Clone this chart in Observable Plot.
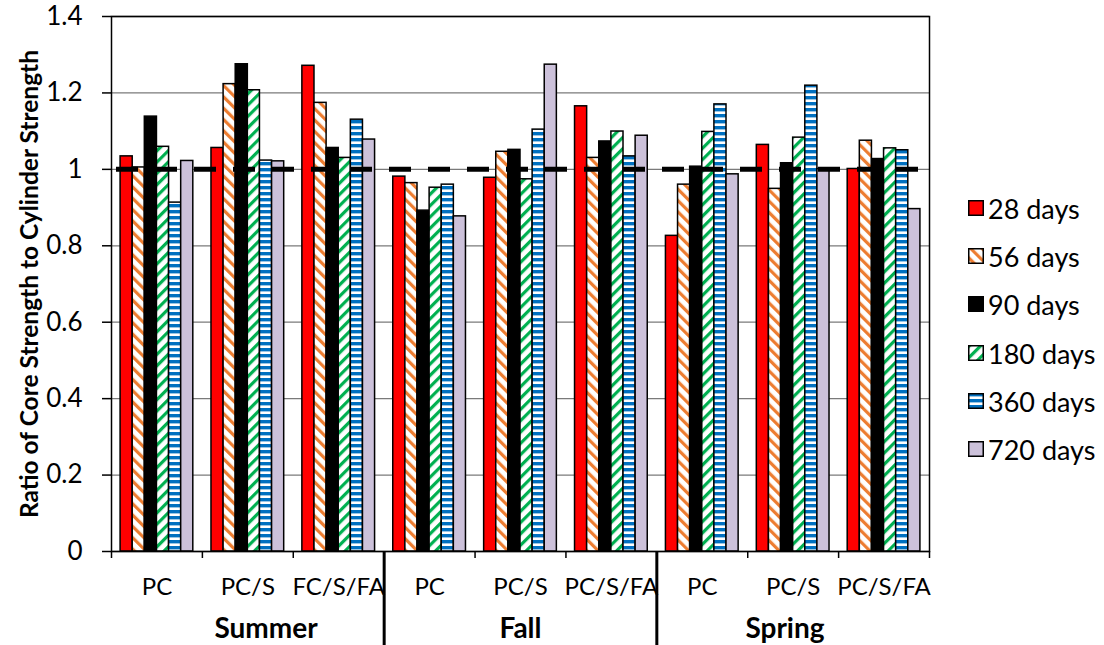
<!DOCTYPE html>
<html>
<head>
<meta charset="utf-8">
<script src="https://cdn.jsdelivr.net/npm/d3@7"></script>
<script src="https://cdn.jsdelivr.net/npm/@observablehq/plot@0.6"></script>
<style>
  html, body { margin: 0; padding: 0; background: #fff; }
  #wrap { position: relative; width: 1104px; height: 645px; font-family: Lato, "Open Sans", sans-serif; }
  #chart { position: absolute; left: 0; top: 0; }
  #legend { position: absolute; left: 968px; top: 0; }
  .li { position: absolute; left: 0; display: flex; align-items: center; white-space: nowrap; font-size: 27px; color: #000; }
  .li svg { margin-right: 4px; }
</style>
</head>
<body>
<svg width="0" height="0" style="position:absolute">
  <defs>
    <pattern id="p56" width="8" height="8" patternUnits="userSpaceOnUse" patternTransform="rotate(-45)">
      <rect width="8" height="8" fill="#fff"/>
      <rect width="3.2" height="8" fill="#ED7D31"/>
    </pattern>
    <pattern id="p180" width="8" height="8" patternUnits="userSpaceOnUse" patternTransform="rotate(45)">
      <rect width="8" height="8" fill="#fff"/>
      <rect width="3.2" height="8" fill="#00B050"/>
    </pattern>
    <pattern id="p360" width="6" height="6" patternUnits="userSpaceOnUse">
      <rect width="6" height="6" fill="#fff"/>
      <rect width="6" height="3.4" fill="#0070C0"/>
    </pattern>
  </defs>
</svg>
<div id="wrap">
  <div id="chart"></div>
  <div id="legend"></div>
</div>
<script>
// ---- data ----
const seasons = ["Summer", "Fall", "Spring"];
const mixes = ["PC", "PC/S", "FC/S/FA", "PC", "PC/S", "PC/S/FA", "PC", "PC/S", "PC/S/FA"];
const ages = ["28 days", "56 days", "90 days", "180 days", "360 days", "720 days"];
const v28  = [1.034, 1.056, 1.271, 0.981, 0.978, 1.165, 0.826, 1.064, 1.001];
const v56  = [1.005, 1.223, 1.174, 0.964, 1.046, 1.030, 0.960, 0.949, 1.075];
const v90  = [1.138, 1.275, 1.056, 0.892, 1.051, 1.073, 1.007, 1.016, 1.027];
const v180 = [1.059, 1.207, 1.030, 0.952, 0.974, 1.099, 1.098, 1.083, 1.055];
const v360 = [0.913, 1.023, 1.130, 0.960, 1.104, 1.034, 1.170, 1.219, 1.050];
const v720 = [1.022, 1.021, 1.078, 0.877, 1.274, 1.088, 0.987, 1.001, 0.896];
const yTicks = [0, 0.2, 0.4, 0.6, 0.8, 1, 1.2, 1.4];
const refLine = [1];
const yTitle = "Ratio of Core Strength to Cylinder Strength";
// season label positions along the group axis (in group units)
const seasonLabelPos = [1.7, 4.5, 7.41];
const seasonSeps = [3, 6];

// ---- styles ----
const fills = ["#FF0000", "url(#p56)", "#000000", "url(#p180)", "url(#p360)", "#CCC1DA"];
const font = "Lato, 'Open Sans', sans-serif";

// ---- table ----
const series = [v28, v56, v90, v180, v360, v720];
const inner = d3.scaleBand(ages, [0.1, 0.9]).paddingInner(0).paddingOuter(0);
const rows = [];
mixes.forEach((m, g) => {
  ages.forEach((a, k) => {
    rows.push({group: g, season: seasons[Math.floor(g / 3)], mix: m, age: a, value: series[k][g]});
  });
});
const groupIdx = d3.range(mixes.length);
const boundaries = d3.range(mixes.length + 1);
const centers = groupIdx.map(i => i + 0.5);

const chart = Plot.plot({
  width: 950,
  height: 645,
  marginLeft: 111,
  marginRight: 21,
  marginTop: 16,
  marginBottom: 94,
  style: {fontFamily: font, background: "#fff", overflow: "visible"},
  x: {type: "linear", domain: [0, mixes.length], axis: null},
  y: {domain: [0, 1.4], axis: null},
  color: {type: "ordinal", domain: ages, range: fills},
  marks: [
    Plot.gridY(yTicks, {stroke: "#7a7a7a", strokeOpacity: 1, strokeWidth: 1.3}),
    Plot.rectY(rows, {
      x1: d => d.group + inner(d.age),
      x2: d => d.group + inner(d.age) + inner.bandwidth(),
      y: "value",
      fill: "age",
      stroke: "#000",
      strokeWidth: 1.5
    }),
    Plot.ruleY(refLine, {stroke: "#000", strokeWidth: 5, strokeDasharray: "22,17", strokeDashoffset: 34}),
    Plot.frame({stroke: "#000", strokeWidth: 1.5}),
    Plot.axisY({ticks: yTicks, tickSize: 9, tickPadding: 20, tickFormat: d => String(+d.toFixed(1)), fontSize: 26, stroke: "#000", strokeWidth: 1.5, label: null, color: "#000"}),
    Plot.axisX({ticks: boundaries, tickSize: 7, tickFormat: () => "", stroke: "#000", strokeWidth: 1.5, label: null}),
    Plot.axisX({ticks: centers, tickSize: 0, tickPadding: 26, tickFormat: i => mixes[Math.floor(i)], fontSize: 24, label: null, color: "#000"}),
    Plot.axisX({ticks: seasonSeps, tickSize: 94, tickFormat: () => "", stroke: "#000", strokeWidth: 3, label: null}),
    Plot.axisX({ticks: seasonLabelPos, tickSize: 0, tickPadding: 67, tickFormat: i => seasons[Math.floor(i / 3)], fontSize: 28, fontWeight: "bold", label: null, color: "#000"}),
    Plot.text([yTitle], {frameAnchor: "left", rotate: -90, dx: -81, textAnchor: "middle", lineAnchor: "middle", fontSize: 24.5, fontWeight: "bold", fill: "#000"})
  ]
});
document.getElementById("chart").appendChild(chart);

// ---- legend ----
const legendY = [208, 256, 304, 353, 401, 449];
const legend = document.getElementById("legend");
ages.forEach((a, i) => {
  const item = document.createElement("div");
  item.className = "li";
  item.style.top = (legendY[i] - 17) + "px";
  item.style.height = "34px";
  item.innerHTML = `<svg width="16" height="16"><rect x="0.75" y="0.75" width="14.5" height="14.5" fill="${fills[i]}" stroke="#000" stroke-width="1.5"/></svg><span>${a}</span>`;
  legend.appendChild(item);
});
</script>
</body>
</html>
